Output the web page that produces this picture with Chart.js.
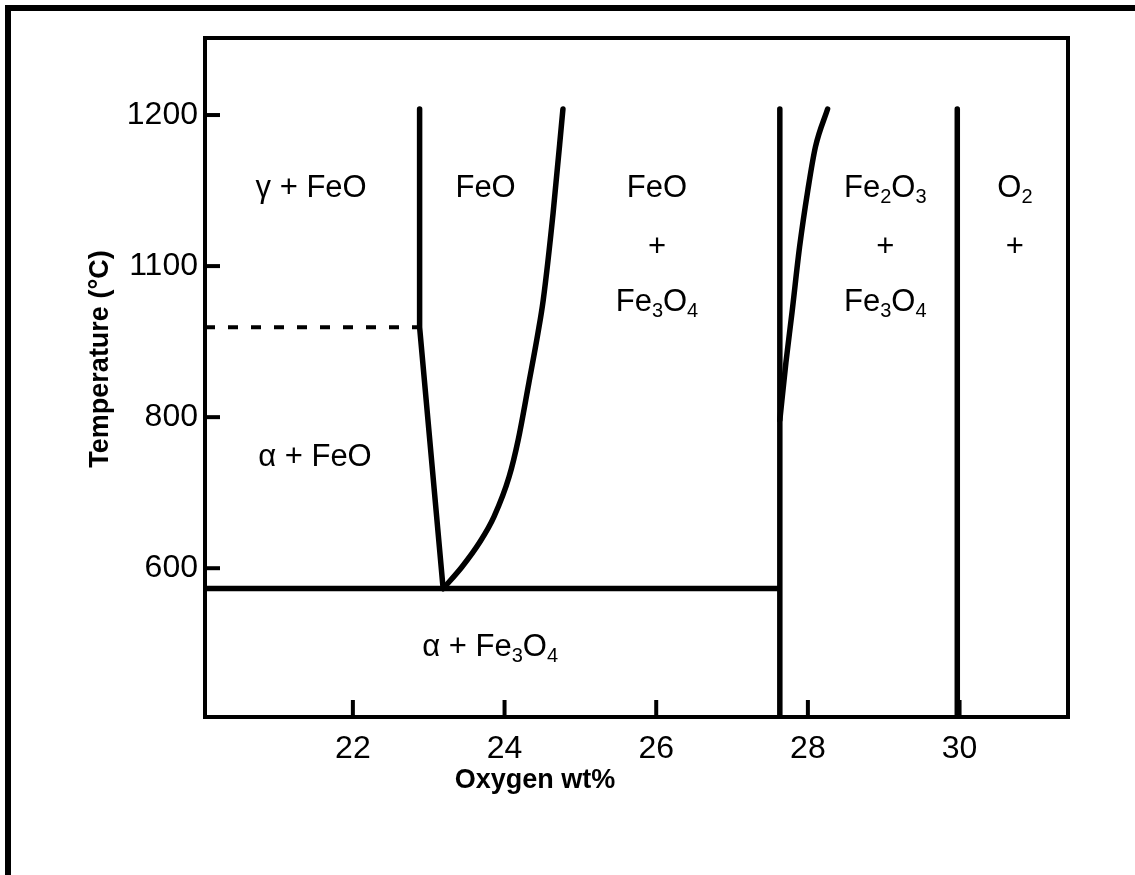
<!DOCTYPE html>
<html>
<head>
<meta charset="utf-8">
<script src="https://cdn.jsdelivr.net/npm/chart.js@4.4.1/dist/chart.umd.min.js"></script>
<style>
    html, body { margin: 0; padding: 0; background: #fff; }
    #wrap { width: 1135px; height: 875px; }
</style>
</head>
<body>
<div id="wrap"><canvas id="chart"></canvas></div>
<script>
// Fe-O phase diagram, oxygen wt% vs temperature (°C)
const xTicks = [22, 24, 26, 28, 30];
const yTickValues = [600, 800, 1000, 1200];
const yTickLabels = ['600', '800', '1100', '1200'];

const feoLeftO = [22.88, 22.88, 23.19];
const feoLeftT = [1208, 919, 573];

const feoRightO = [23.19, 23.44, 23.67, 23.86, 24.06, 24.18, 24.32, 24.44, 24.51, 24.64, 24.77];
const feoRightT = [573, 602, 634, 668, 721, 770, 845, 911, 955, 1070, 1208];

const eutectoidO = [20.05, 27.63];
const eutectoidT = [573, 573];

const alphaGammaO = [20.05, 22.88];
const alphaGammaT = [919, 919];

const magnetiteLeftO = [27.63, 27.63];
const magnetiteLeftT = [403, 1208];

const magnetiteRightO = [27.63, 27.71, 27.79, 27.89, 28.00, 28.10, 28.26];
const magnetiteRightT = [796, 872, 938, 1025, 1101, 1158, 1208];

const hematiteO = [29.97, 29.97];
const hematiteT = [403, 1208];

// phase region labels: digits are drawn as subscripts
const regionText = ['γ + FeO', 'FeO', 'FeO', '+', 'Fe3O4', 'Fe2O3', '+', 'Fe3O4', 'O2', '+', 'α + FeO', 'α + Fe3O4'];
const regionO = [21.45, 23.75, 26.01, 26.01, 26.01, 29.02, 29.02, 29.02, 30.73, 30.73, 21.50, 23.81];
const regionT = [1106, 1106, 1106, 1028, 955, 1106, 1028, 955, 1106, 1028, 750, 499];

const FONT = '"Liberation Sans", Arial, sans-serif';

function zip(xs, ys) {
    return xs.map((x, i) => ({ x, y: ys[i] }));
}

function lineSet(xs, ys, extra = {}) {
    return Object.assign({
        data: zip(xs, ys),
        showLine: true,
        borderColor: '#000',
        borderWidth: 5.5,
        borderCapStyle: 'round',
        borderJoinStyle: 'round',
        pointRadius: 0,
        fill: false,
        tension: 0
    }, extra);
}

function drawRich(ctx, text, cx, cy, size) {
    const small = Math.round(size * 0.66);
    const parts = [...text].map(ch => ({ ch, sub: /[0-9]/.test(ch) }));
    let total = 0;
    parts.forEach(p => {
        ctx.font = `${p.sub ? small : size}px ${FONT}`;
        p.w = ctx.measureText(p.ch).width;
        total += p.w;
    });
    let x = cx - total / 2;
    const base = cy + size * 0.36;
    ctx.textAlign = 'left';
    ctx.textBaseline = 'alphabetic';
    parts.forEach(p => {
        ctx.font = `${p.sub ? small : size}px ${FONT}`;
        ctx.fillText(p.ch, x, p.sub ? base + size * 0.2 : base);
        x += p.w;
    });
}

const decorPlugin = {
    id: 'decor',
    afterDraw(chart) {
        const { ctx, chartArea: a, scales } = chart;
        ctx.save();
        ctx.strokeStyle = '#000';
        ctx.fillStyle = '#000';

        // outer frame (top and left only)
        ctx.lineWidth = 6;
        ctx.beginPath();
        ctx.moveTo(8, 875);
        ctx.lineTo(8, 8);
        ctx.lineTo(1135, 8);
        ctx.stroke();

        // plot box
        ctx.lineWidth = 4;
        ctx.strokeRect(a.left, a.top, a.right - a.left, a.bottom - a.top);

        // inward tick marks
        ctx.lineCap = 'butt';
        yTickValues.forEach(v => {
            const y = scales.y.getPixelForValue(v);
            ctx.beginPath();
            ctx.moveTo(a.left, y);
            ctx.lineTo(a.left + 15, y);
            ctx.stroke();
        });
        xTicks.forEach(v => {
            const x = scales.x.getPixelForValue(v);
            ctx.beginPath();
            ctx.moveTo(x, a.bottom);
            ctx.lineTo(x, a.bottom - 17);
            ctx.stroke();
        });

        // region labels
        regionText.forEach((t, i) => {
            drawRich(ctx, t, scales.x.getPixelForValue(regionO[i]), scales.y.getPixelForValue(regionT[i]), 31);
        });

        // axis titles
        ctx.font = `bold 27px ${FONT}`;
        ctx.textAlign = 'center';
        ctx.textBaseline = 'middle';
        ctx.fillText('Oxygen wt%', 535, 781);
        ctx.translate(101, 359);
        ctx.rotate(-Math.PI / 2);
        ctx.fillText('Temperature (°C)', 0, 0);
        ctx.restore();
    }
};

new Chart(document.getElementById('chart'), {
    type: 'scatter',
    data: {
        datasets: [
            lineSet(feoLeftO, feoLeftT),
            lineSet(feoRightO, feoRightT, { cubicInterpolationMode: 'monotone' }),
            lineSet(eutectoidO, eutectoidT, { borderCapStyle: 'butt' }),
            lineSet(alphaGammaO, alphaGammaT, { borderWidth: 4, borderDash: [10, 13], borderCapStyle: 'butt' }),
            lineSet(magnetiteLeftO, magnetiteLeftT),
            lineSet(magnetiteRightO, magnetiteRightT, { cubicInterpolationMode: 'monotone' }),
            lineSet(hematiteO, hematiteT)
        ]
    },
    options: {
        responsive: true,
        maintainAspectRatio: false,
        animation: false,
        layout: { padding: { top: 38, right: 67, left: 0, bottom: 0 } },
        plugins: { legend: { display: false }, tooltip: { enabled: false } },
        scales: {
            x: {
                type: 'linear',
                min: 20.05,
                max: 31.43,
                afterFit: (s) => { s.height = 158; },
                afterBuildTicks: (s) => { s.ticks = xTicks.map(v => ({ value: v })); },
                grid: { display: false, drawTicks: false },
                border: { display: false },
                ticks: {
                    padding: 13,
                    color: '#000',
                    font: { family: FONT, size: 32 },
                    callback: (v) => String(v)
                }
            },
            y: {
                type: 'linear',
                min: 403,
                max: 1302,
                afterFit: (s) => { s.width = 205; },
                afterBuildTicks: (s) => { s.ticks = yTickValues.map(v => ({ value: v })); },
                grid: { display: false, drawTicks: false },
                border: { display: false },
                ticks: {
                    padding: 7,
                    color: '#000',
                    font: { family: FONT, size: 32 },
                    callback: (v) => yTickLabels[yTickValues.indexOf(v)]
                }
            }
        }
    },
    plugins: [decorPlugin]
});
</script>
</body>
</html>
